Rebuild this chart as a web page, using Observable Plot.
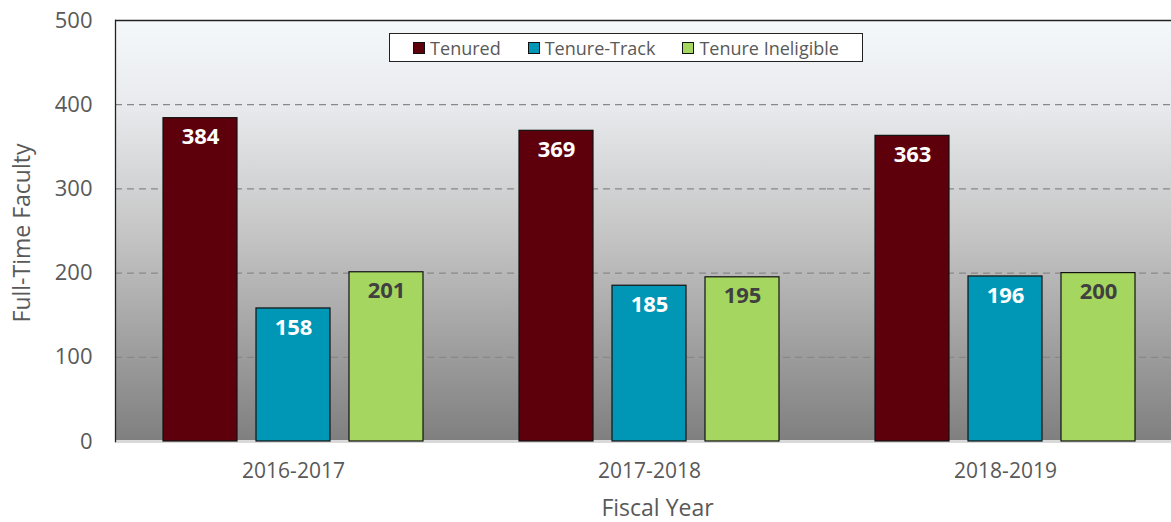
<!DOCTYPE html>
<html>
<head>
<meta charset="utf-8">
<script src="https://cdn.jsdelivr.net/npm/d3@7"></script>
<script src="https://cdn.jsdelivr.net/npm/@observablehq/plot@0.6"></script>
<style>
  html, body { margin: 0; padding: 0; background: #fff; overflow: hidden; }
  #wrap { position: relative; width: 1171px; height: 522px; overflow: hidden; }
  #legend {
    position: absolute; left: 389px; top: 33px; width: 472px; height: 27px;
    border: 1px solid #222; background: #fff; box-sizing: content-box;
    display: flex; align-items: center; justify-content: center; gap: 27px;
    font-family: "Open Sans", sans-serif; font-size: 18px; color: #595959;
  }
  #legend .item { display: flex; align-items: center; gap: 5px; }
  #legend .sw { width: 10px; height: 10px; border: 1px solid #111; }
</style>
</head>
<body>
<div id="wrap"><div id="legend"></div></div>
<script>
const years = ["2016-2017", "2017-2018", "2018-2019"];
const series = ["Tenured", "Tenure-Track", "Tenure Ineligible"];
const tenured = [384, 369, 363];
const tenureTrack = [158, 185, 196];
const tenureIneligible = [201, 195, 200];
const yTicks = [0, 100, 200, 300, 400, 500];
const gridTicks = [100, 200, 300, 400];
const colors = ["#5e000c", "#0096b6", "#a5d65f"];
const yTitle = "Full-Time Faculty";
const xTitle = "Fiscal Year";

const values = [tenured, tenureTrack, tenureIneligible];
const rows = years.flatMap((yr, i) => series.map((s, j) => ({year: yr, series: s, value: values[j][i]})));

const chart = Plot.plot({
  width: 1171,
  height: 522,
  marginLeft: 115,
  marginRight: -12,
  marginTop: 20,
  marginBottom: 81,
  style: {fontFamily: "Open Sans, sans-serif", fontSize: "20px", color: "#595959", background: "transparent"},
  fx: {domain: years, padding: 0},
  x: {domain: series, paddingInner: 0.2, paddingOuter: 0.5, axis: null},
  y: {domain: [0, 500]},
  color: {domain: series, range: colors},
  marks: [
    Plot.frame({fill: "url(#bgGrad)", stroke: "none", facet: "super"}),
    Plot.gridY(gridTicks, {stroke: "#888", strokeOpacity: 1, strokeWidth: 1.3, strokeDasharray: "7,5"}),
    Plot.ruleY([500], {stroke: "#222", strokeWidth: 1.3}),
    Plot.ruleY([0], {stroke: "#d9d9d9", strokeWidth: 3}),
    Plot.frame({anchor: "left", facetAnchor: "left", stroke: "#222", strokeWidth: 1.3}),
    Plot.barY(rows, {fx: "year", x: "series", y: "value", fill: "series", stroke: "#111", strokeWidth: 1.2}),
    Plot.text(rows.filter(d => d.series !== "Tenure Ineligible"), {fx: "year", x: "series", y: "value", text: d => String(d.value), dy: 19, fill: "white", fontWeight: "bold", fontSize: 22}),
    Plot.text(rows.filter(d => d.series === "Tenure Ineligible"), {fx: "year", x: "series", y: "value", text: d => String(d.value), dy: 19, fill: "#404040", fontWeight: "bold", fontSize: 22}),
    Plot.axisY({ticks: yTicks, tickSize: 0, tickPadding: 23, label: null, fontSize: 22, fill: "#595959"}),
    Plot.axisFx({anchor: "bottom", tickSize: 0, tickPadding: 22, label: null, fontSize: 21, fill: "#595959"}),
    Plot.text([yTitle], {frameAnchor: "left", textAnchor: "middle", lineAnchor: "middle", dx: -93, dy: 2, rotate: -90, fontSize: 23, fill: "#595959", facet: "super"}),
    Plot.text([xTitle], {frameAnchor: "bottom", textAnchor: "middle", lineAnchor: "middle", dx: 8, dy: 67, fontSize: 23, fill: "#595959", facet: "super"})
  ]
});

const svg = d3.select(chart);
const defs = svg.insert("defs", ":first-child");
const g = defs.append("linearGradient").attr("id", "bgGrad").attr("x1", 0).attr("y1", 0).attr("x2", 0).attr("y2", 1);
[[0, "#f5f8fb"], [0.2, "#e8eaed"], [0.5, "#c6c6c6"], [1, "#7f7f7f"]].forEach(([o, c]) =>
  g.append("stop").attr("offset", o).attr("stop-color", c));

const wrap = document.getElementById("wrap");
wrap.insertBefore(chart, wrap.firstChild);

const legend = d3.select("#legend");
series.forEach((s, i) => {
  const it = legend.append("div").attr("class", "item");
  it.append("div").attr("class", "sw").style("background", colors[i]);
  it.append("span").text(s);
});
</script>
</body>
</html>
